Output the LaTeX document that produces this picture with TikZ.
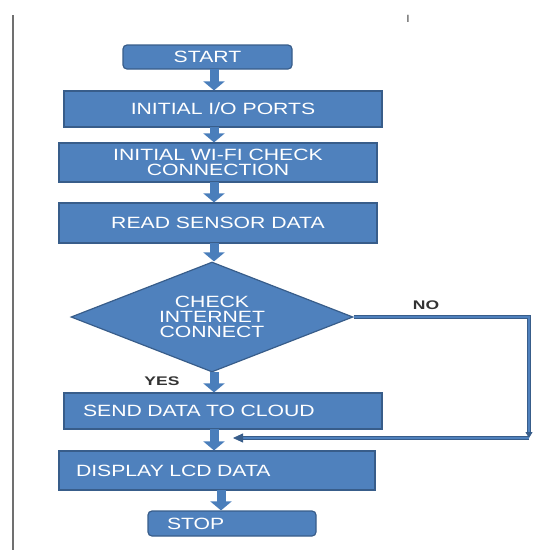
\documentclass[tikz,border=0pt]{standalone}
\usepackage{fontspec}
\newfontfamily\boxfont{Liberation Sans}[FakeStretch=1.3]
\newfontfamily\lblfont{Liberation Sans}[FakeStretch=1.4]
\usetikzlibrary{shapes.geometric,arrows.meta}
\definecolor{bfill}{HTML}{4F81BD}
\definecolor{bedge}{HTML}{385D8A}
\definecolor{barrow}{HTML}{4A7EBB}
\definecolor{lblgray}{HTML}{333333}
\definecolor{framegray}{HTML}{707070}
\tikzset{
  box/.style={draw=bedge, line width=1.2pt, fill=bfill, text=white,
    font=\boxfont\fontsize{16.3}{15}\selectfont, align=center, inner sep=0pt},
  rbox/.style={box, rounded corners=4pt},
  blk/.style={draw=barrow, line width=9pt,
    -{Triangle[width=21pt,length=9pt]}, shorten <=-0.6pt},
  noline/.style={draw=bedge, line width=0.8pt, double=bfill,
    double distance=1.6pt},
  lbl/.style={text=lblgray, font=\lblfont\bfseries\fontsize{12.5}{14}\selectfont, inner sep=0pt},
}
\begin{document}
\begin{tikzpicture}
\useasboundingbox (0,0) rectangle (541pt,-550pt);
% frame line and mark
\coordinate (ftop) at (13pt,-15pt);
\coordinate (fbot) at (13pt,-550pt);
\draw[framegray, line width=1.6pt] (ftop) -- (fbot);
\node[text=framegray!80!black, font=\boxfont\fontsize{10.5}{10}\selectfont, inner sep=0pt] (mark) at (408pt,-19pt) {I};

% nodes
\node[rbox, minimum width=169pt, minimum height=24pt] (start) at (207.5pt,-57pt) {START};
\node[box, minimum width=318pt, minimum height=36pt] (iop) at (223pt,-109pt) {INITIAL I/O PORTS};
\node[box, minimum width=318pt, minimum height=39pt] (wifi) at (218pt,-162.5pt) {INITIAL WI-FI CHECK\\CONNECTION};
\node[box, minimum width=318pt, minimum height=40pt] (read) at (218pt,-223pt) {READ SENSOR DATA};
\node[box, diamond, aspect=2.56, minimum width=282pt, minimum height=110pt] (dec) at (212pt,-317pt) {CHECK\\INTERNET\\CONNECT};
\node[box, minimum width=318pt, minimum height=36pt, text width=280pt, align=left] (send) at (223pt,-411pt) {SEND DATA TO CLOUD};
\node[box, minimum width=316pt, minimum height=39pt, text width=282pt, align=left] (disp) at (217pt,-470.5pt) {DISPLAY LCD DATA};
\node[rbox, minimum width=168pt, minimum height=25pt, text width=130pt, align=left] (stop) at (232pt,-523.5pt) {STOP};

% labels
\node[lbl] (nolbl) at (426pt,-305pt) {NO};
\node[lbl] (yeslbl) at (162pt,-381pt) {YES};

% block arrows
\coordinate (ax) at (214pt,0);
\coordinate (bx) at (221pt,0);
\draw[blk] (ax |- start.south) -- (ax |- iop.north);
\draw[blk] (ax |- iop.south) -- (ax |- wifi.north);
\draw[blk] (ax |- wifi.south) -- (ax |- read.north);
\draw[blk] (ax |- read.south) -- (ax |- dec.north);
\draw[blk] (ax |- dec.south) -- (ax |- send.north);
\draw[blk] (ax |- send.south) -- (ax |- disp.north);
\draw[blk] (bx |- disp.south) -- (bx |- stop.north);

% NO branch
\coordinate (nx) at (529pt,0);
\coordinate (ncorner) at (529pt,-438pt);
\coordinate (join) at (233pt,-438pt);
\draw[noline, -{Triangle[width=7pt,length=6pt]}] (dec.east) -- (dec.east -| nx) -- (ncorner);
\draw[noline, -{Triangle[width=9pt,length=10pt]}] (ncorner) -- (join);
\end{tikzpicture}
\end{document}
